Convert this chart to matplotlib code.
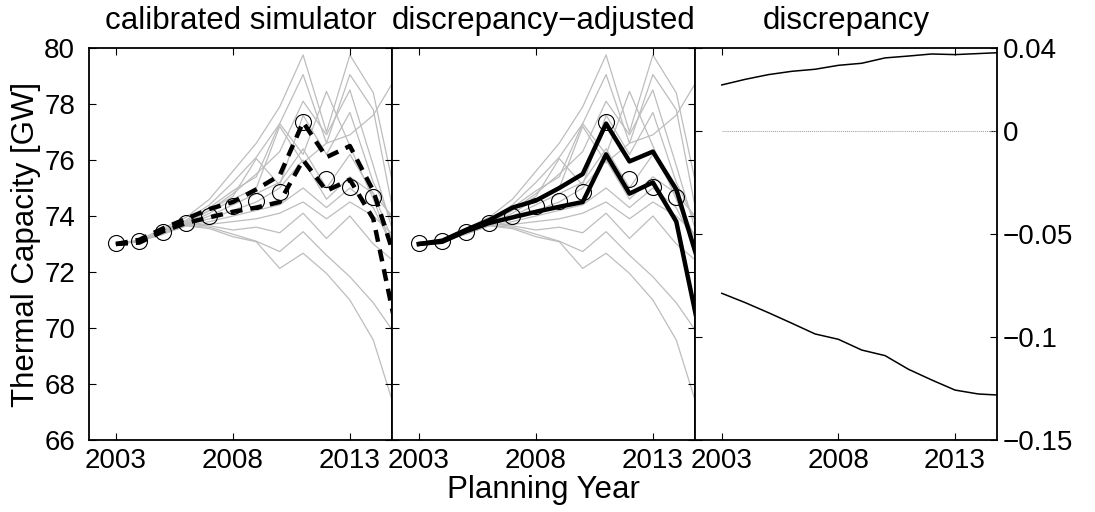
import matplotlib
matplotlib.use("Agg")
import matplotlib.pyplot as plt
import numpy as np

plt.rcParams['font.family'] = ['Liberation Sans', 'DejaVu Sans']
plt.rcParams['axes.unicode_minus'] = True

# ---------------- data ----------------
years = [2003, 2004, 2005, 2006, 2007, 2008, 2009, 2010, 2011, 2012, 2013, 2014, 2015]
obs_years = [2003, 2004, 2005, 2006, 2007, 2008, 2009, 2010, 2011, 2012, 2013, 2014]
observed = [73.05, 73.1, 73.44, 73.74, 74.01, 74.37, 74.54, 74.85, 77.37, 75.31, 75.05, 74.69]

sim_upper = [73.0, 73.15, 73.55, 73.9, 74.25, 74.5, 74.95, 75.45, 77.35, 76.1, 76.5, 74.9, 72.3]
sim_lower = [73.0, 73.05, 73.45, 73.75, 73.95, 74.15, 74.3, 74.5, 76.0, 74.9, 75.3, 73.9, 69.9]

adj_upper = [73.0, 73.12, 73.5, 73.85, 74.3, 74.55, 75.0, 75.5, 77.3, 75.95, 76.3, 74.95, 72.2]
adj_lower = [73.0, 73.08, 73.45, 73.75, 73.95, 74.15, 74.33, 74.5, 76.2, 74.8, 75.2, 73.8, 69.8]

ensemble = [
    [73.0, 73.15, 73.55, 73.95, 74.6, 75.6, 76.6, 77.9, 79.75, 77.0, 79.75, 78.4, 74.5],
    [73.0, 73.1, 73.5, 73.85, 74.4, 75.2, 76.1, 77.3, 79.05, 76.6, 79.05, 77.8, 73.5],
    [73.0, 73.1, 73.45, 73.75, 74.2, 74.8, 75.5, 76.3, 78.1, 76.9, 78.5, 75.8, 73.0],
    [73.0, 73.1, 73.45, 73.8, 74.3, 74.9, 75.4, 77.3, 76.2, 78.45, 76.5, 74.6, 72.5],
    [73.0, 73.1, 73.4, 73.7, 74.1, 74.6, 75.0, 77.2, 75.9, 76.6, 76.9, 77.6, 79.0],
    [73.0, 73.1, 73.4, 73.75, 74.2, 74.7, 76.05, 75.1, 77.6, 76.2, 77.7, 75.2, 73.5],
    [73.0, 73.1, 73.4, 73.7, 74.0, 74.4, 74.8, 75.2, 76.4, 75.0, 76.2, 74.8, 72.8],
    [73.0, 73.1, 73.4, 73.7, 73.9, 74.2, 74.5, 75.0, 76.0, 74.6, 75.4, 74.8, 73.8],
    [73.0, 73.1, 73.4, 73.65, 73.8, 74.0, 74.2, 74.4, 75.0, 74.3, 75.0, 74.3, 72.6],
    [73.0, 73.1, 73.4, 73.7, 73.7, 73.8, 73.9, 74.1, 74.5, 73.9, 74.5, 74.0, 73.2],
    [73.0, 73.1, 73.4, 73.7, 73.65, 73.5, 73.6, 73.4, 74.1, 73.2, 74.0, 73.0, 72.3],
    [73.0, 73.1, 73.35, 73.65, 73.6, 73.35, 73.1, 72.73, 73.44, 72.6, 71.83, 70.9, 69.7],
    [73.0, 73.1, 73.35, 73.65, 73.55, 73.26, 73.08, 72.13, 72.67, 71.95, 71.0, 69.57, 66.9],
]

disc_years = [2003, 2004, 2005, 2006, 2007, 2008, 2009, 2010, 2011, 2012, 2013, 2014, 2015]
disc_upper = [0.0221, 0.0248, 0.0271, 0.0287, 0.0297, 0.0316, 0.0326, 0.0352, 0.0361, 0.0371, 0.0368, 0.0373, 0.0378]
disc_lower = [-0.0789, -0.0834, -0.0883, -0.0934, -0.0986, -0.1012, -0.1064, -0.1091, -0.1157, -0.1209, -0.1258, -0.1277, -0.1283]

titles = ['calibrated simulator', 'discrepancy\u2212adjusted', 'discrepancy']
xticks = [2003, 2008, 2013]
yticks = [66, 68, 70, 72, 74, 76, 78, 80]
dticks = [-0.15, -0.1, -0.05, 0, 0.04]
dticklabels = ['\u22120.15', '\u22120.1', '\u22120.05', '0', '0.04']

# ---------------- figure ----------------
W, H = 1095, 512
fig = plt.figure(figsize=(W / 100, H / 100), dpi=100)

def axrect(x0, x1, ytop=48, ybot=440):
    return [x0 / W, (H - ybot) / H, (x1 - x0) / W, (ybot - ytop) / H]

ax1 = fig.add_axes(axrect(89, 392))
ax2 = fig.add_axes(axrect(392, 695))
ax3 = fig.add_axes(axrect(695, 997))

FS = 20
FL = 22.5
gray = '#bdbdbd'
xlim = (2001.85, 2014.8)

for ax in (ax1, ax2, ax3):
    ax.set_xlim(*xlim)
    ax.set_xticks(xticks)
    ax.set_xticklabels([str(t) for t in xticks], fontsize=FS)
    ax.tick_params(direction='in', top=True, right=True, length=5, width=0.8,
                   pad=6, labelsize=FS)
    ax.tick_params(axis='y', pad=10)
    for s in ax.spines.values():
        s.set_linewidth(1.3)

for ax, up, lo, ls in ((ax1, sim_upper, sim_lower, (0, (2.7, 1.8))),
                       (ax2, adj_upper, adj_lower, '-')):
    for m in ensemble:
        ax.plot(years, m, color=gray, lw=0.9, zorder=1)
    ax.plot(years, up, color='black', lw=3.2, ls=ls, zorder=3)
    ax.plot(years, lo, color='black', lw=3.2, ls=ls, zorder=3)
    ax.plot(obs_years, observed, ls='none', marker='o', ms=11.5, mfc='none',
            mec='black', mew=0.8, zorder=4)
    ax.set_ylim(66, 80)
    ax.set_yticks(yticks)

ax1.set_yticklabels([str(t) for t in yticks], fontsize=FS)
ax2.set_yticklabels([])
ax1.set_ylabel('Thermal Capacity [GW]', fontsize=FL, labelpad=2)

ax3.plot(disc_years, disc_upper, color='black', lw=1.1)
ax3.plot(disc_years, disc_lower, color='black', lw=1.1)
ax3.plot([2003, 2015], [0, 0], color='#9a9a9a', lw=0.7, ls=(0, (1, 1)))
ax3.set_ylim(-0.15, 0.04)
ax3.set_yticks(dticks)
ax3.yaxis.tick_right()
ax3.tick_params(axis='y', which='both', left=True, right=True, direction='in',
                length=5, pad=4)
ax3.set_yticklabels(dticklabels, fontsize=FS)

for ax, t in zip((ax1, ax2, ax3), titles):
    ax.set_title(t, fontsize=FL, pad=14)

fig.text(543 / W, 1 - 490 / H, 'Planning Year', ha='center', va='center', fontsize=FL)

fig.savefig('out.png', dpi=100)
